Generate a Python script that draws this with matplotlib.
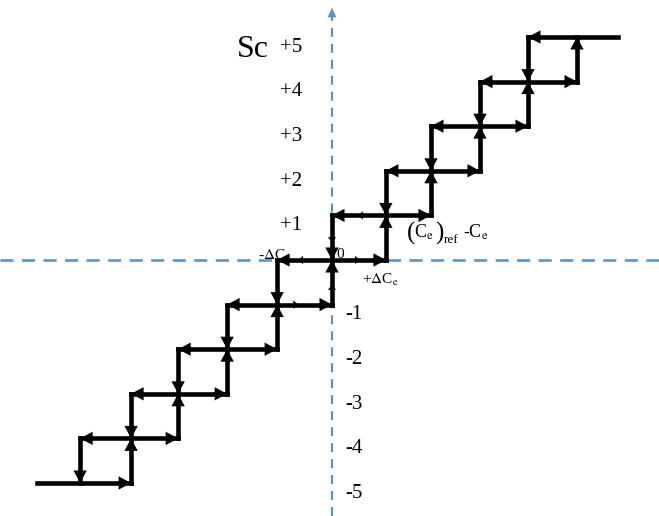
import matplotlib
matplotlib.use("Agg")
import matplotlib.pyplot as plt

# Niveles de Sc y umbrales de conmutacion (en unidades de delta Ce)
niveles = [-5, -4, -3, -2, -1, 0, 1, 2, 3, 4, 5]
x_conmutacion = [-5.14, -4.10, -3.14, -2.14, -1.12, 0.0, 1.10, 2.02, 3.02, 4.00, 5.00]
x_extremo_izq = -6.02
x_extremo_der = 5.84
etiquetas_pos = ["+1", "+2", "+3", "+4", "+5"]
etiquetas_neg = ["-1", "-2", "-3", "-4", "-5"]

AZUL = "#5b95c8"
NEGRO = "black"

plt.rcParams["font.family"] = ["Liberation Serif", "DejaVu Serif"]
plt.rcParams["mathtext.fontset"] = "stix"
plt.rcParams["lines.scale_dashes"] = False

fig = plt.figure(figsize=(6.59, 5.16), dpi=100)
ax = fig.add_axes([0, 0, 1, 1])
ax.set_xlim(-332 / 49, 327 / 49)
ax.set_ylim(-256 / 44.6, 260 / 44.6)
ax.axis("off")


def punta(x, y, dx, dy, largo=9.0, ancho=4.8, color=NEGRO, z=4):
    # punta de flecha con la punta en (x, y), apuntando en (dx, dy)
    ax.annotate("", xy=(x, y), xytext=(x - dx * 0.5, y - dy * 0.5),
                arrowprops=dict(arrowstyle=f"-|>,head_length={largo},head_width={ancho}",
                                mutation_scale=1, color=color, lw=0,
                                shrinkA=0, shrinkB=0),
                zorder=z)


# Ejes punteados
ax.plot([ax.get_xlim()[0], ax.get_xlim()[1]], [0, 0], color=AZUL, lw=1.9,
        dashes=(9.4, 6.1), dash_capstyle="butt", zorder=1)
ax.plot([0, 0], [ax.get_ylim()[0], 5.5], color=AZUL, lw=1.6,
        dashes=(6.5, 5.0), dash_capstyle="butt", zorder=1)
punta(0, 5.66, 0, 1, largo=7, ancho=3.2, color=AZUL, z=1)

n = len(niveles)

# Tramos horizontales
for i, k in enumerate(niveles):
    izq = x_conmutacion[i - 1] if i > 0 else x_extremo_izq
    der = x_conmutacion[i + 1] if i < n - 1 else x_extremo_der
    ax.plot([izq, der], [k, k], color=NEGRO, lw=3.3,
            solid_capstyle="projecting", zorder=3)
    if i > 0:
        punta(izq, k, -1, 0)
    if i < n - 1:
        punta(der, k, 1, 0)

# Tramos verticales
for i, k in enumerate(niveles):
    xv = x_conmutacion[i]
    abajo = niveles[max(i - 1, 0)]
    arriba = niveles[min(i + 1, n - 1)]
    ax.plot([xv, xv], [abajo, arriba], color=NEGRO, lw=3.3,
            solid_capstyle="projecting", zorder=3)
    if i > 0:
        punta(xv, k, 0, 1)
    if i < n - 1:
        punta(xv, k, 0, -1)

# Marcas pequenas cerca del origen
punta(-0.69, 0, -1, 0, largo=3.5, ancho=3.0)
punta(0.57, 0, 1, 0, largo=3.5, ancho=3.0)
punta(0.53, 1, -1, 0, largo=3.5, ancho=3.0)
punta(-0.69, -1, 1, 0, largo=3.5, ancho=3.0)
punta(0, 0.40, 0, -1, largo=3.5, ancho=3.0)
punta(0, -0.56, 0, 1, largo=3.5, ancho=3.0)

# Etiquetas del eje vertical
for k, txt in zip(niveles[6:], etiquetas_pos):
    ax.text(-1.06, k - 0.33, txt, fontsize=15, ha="left", va="baseline", zorder=5)
for k, txt in zip(niveles[4::-1], etiquetas_neg):
    ax.text(0.27, k - 0.33, txt, fontsize=15, ha="left", va="baseline", zorder=5)

ax.text(-1.94, 4.55, "Sc", fontsize=23, ha="left", va="baseline", zorder=5)
ax.text(0.08, 0.045, "0", fontsize=11, ha="left", va="baseline", zorder=2)
ax.text(-1.51, 0.0, r"-$\Delta$C$_\mathrm{e}$", fontsize=11, ha="left",
        va="baseline", zorder=5)
ax.text(0.61, -0.54, r"+$\Delta$C$_\mathrm{e}$", fontsize=11, ha="left",
        va="baseline", zorder=5)

# Etiqueta del eje horizontal: (Ce)ref - Ce, con parentesis grandes
base = 0.51
ax.text(1.53, base - 0.05, "(", fontsize=18, ha="left", va="baseline", zorder=5)
ax.text(1.68, base, r"C$_\mathrm{e}$", fontsize=13, ha="left", va="baseline", zorder=5)
ax.text(2.10, base - 0.05, ")", fontsize=18, ha="left", va="baseline", zorder=5)
ax.text(2.28, base - 0.13, "ref", fontsize=9.5, ha="left", va="baseline", zorder=5)
ax.text(2.68, base, r"-C$_\mathrm{e}$", fontsize=13, ha="left", va="baseline", zorder=5)

fig.savefig("out.png", dpi=100)
